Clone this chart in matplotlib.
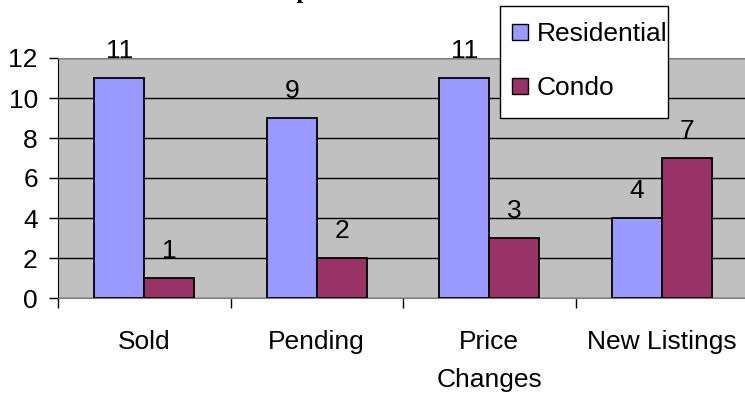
import matplotlib
matplotlib.use("Agg")
import matplotlib.pyplot as plt
from matplotlib.patches import Rectangle
import numpy as np

categories = ["Sold", "Pending", "Price\nChanges", "New Listings"]
residential = [11, 9, 11, 4]
condo = [1, 2, 3, 7]
series_names = ["Residential", "Condo"]
y_ticks = [0, 2, 4, 6, 8, 10, 12]

plt.rcParams["font.family"] = ["Liberation Sans", "DejaVu Sans"]
FS = 19
W, H = 745, 394

fig = plt.figure(figsize=(W / 100, H / 100), dpi=100)
ax = fig.add_axes([58 / W, 96 / H, 690 / W, 240 / H])
ax.set_facecolor("#C0C0C0")

x = np.arange(len(categories))
w = 0.29
b1 = ax.bar(x - w / 2, residential, w, color="#9999FF", edgecolor="black",
            linewidth=1.3, label=series_names[0], zorder=3)
b2 = ax.bar(x + w / 2, condo, w, color="#993366", edgecolor="black",
            linewidth=1.3, label=series_names[1], zorder=3)

for bars in (b1, b2):
    for rect in bars:
        ax.annotate(f"{rect.get_height():g}",
                    (rect.get_x() + rect.get_width() / 2, rect.get_height()),
                    xytext=(0, 10.5), textcoords="offset points",
                    ha="center", va="bottom", fontsize=FS, zorder=4)

ax.set_xlim(-0.5, len(categories) - 0.5)
ax.set_ylim(0, 12)
ax.set_yticks(y_ticks)
ax.set_yticklabels([str(t) for t in y_ticks], fontsize=FS)
ax.yaxis.grid(True, color="black", linewidth=1.0, zorder=1)
ax.set_axisbelow(True)

ax.set_xticks(x)
ax.set_xticklabels(categories, fontsize=FS, linespacing=1.75)
ax.tick_params(axis="x", which="major", length=0, pad=23)
ax.set_xticks(np.arange(len(categories) + 1) - 0.5, minor=True)
ax.tick_params(axis="x", which="minor", length=7, width=1, color="black",
               direction="out")
ax.tick_params(axis="y", length=6.5, width=1, color="black", direction="out",
               pad=8)

for side in ("top", "right"):
    ax.spines[side].set_color("#808080")
ax.spines["bottom"].set_color("#808080")
ax.spines["left"].set_color("black")

fig.text(257 / W, 1.006, "Snapshot", fontsize=18, fontweight="bold",
         family=["Liberation Serif", "DejaVu Serif"], ha="left",
         va="baseline")

# legend box with a tight frame drawn separately
fig.patches.append(Rectangle((500 / W, 1 - 118 / H), 168 / W, 112 / H,
                             transform=fig.transFigure, facecolor="white",
                             edgecolor="black", linewidth=1.0, zorder=5))
leg = fig.legend(handles=[b1, b2], loc="upper left",
                 bbox_to_anchor=(512 / W, 1 - 22 / H), fontsize=FS,
                 frameon=False, handlelength=0.6, handleheight=0.57,
                 handletextpad=0.34, labelspacing=1.15, borderpad=0,
                 borderaxespad=0)
leg.set_zorder(6)
for h in leg.legend_handles:
    h.set_linewidth(1.0)

fig.savefig("out.png", dpi=100)
